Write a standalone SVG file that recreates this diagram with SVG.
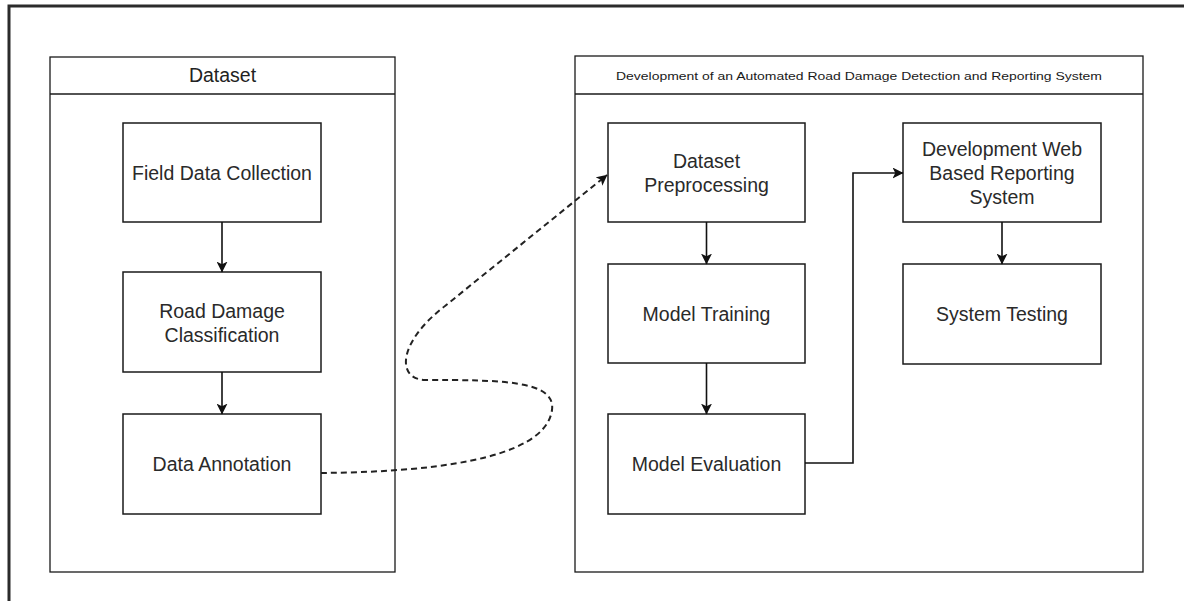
<svg xmlns="http://www.w3.org/2000/svg" width="1184" height="601" viewBox="0 0 1184 601">
  <style>
    .frame { fill: none; stroke: #2b2b2b; stroke-width: 3; }
    .pool { fill: #ffffff; stroke: #1a1a1a; stroke-width: 1.3; }
    .box { fill: #ffffff; stroke: #1a1a1a; stroke-width: 1.5; }
    .lbl { font-family: "Liberation Sans", Arial, sans-serif; font-size: 19.5px; fill: #2a2a2a; text-anchor: middle; }
    .title { font-family: "Liberation Sans", Arial, sans-serif; font-size: 19.5px; fill: #222222; text-anchor: middle; }
    .small { font-family: "Liberation Sans", Arial, sans-serif; font-size: 11.5px; fill: #1a1a1a; text-anchor: middle; }
    .edge { fill: none; stroke: #111111; stroke-width: 1.6; }
    .dash { fill: none; stroke: #222222; stroke-width: 2; stroke-dasharray: 6 4; }
  </style>
  <defs>
    <marker id="arrow" viewBox="0 0 10 10" refX="9.5" refY="5" markerWidth="11" markerHeight="11" markerUnits="userSpaceOnUse" orient="auto">
      <path d="M0,0 L10,5 L0,10 L2.5,5 Z" fill="#111111"/>
    </marker>
  </defs>

  <rect width="1184" height="601" fill="#ffffff"/>
  <!-- outer page border, running off the right and bottom edges -->
  <rect class="frame" x="9" y="6" width="1200" height="620"/>

  <!-- Dataset container -->
  <g id="pool-dataset">
    <rect class="pool" x="50" y="57" width="345" height="515"/>
    <line class="pool" x1="50" y1="94" x2="395" y2="94"/>
    <text class="title" x="222.5" y="82">Dataset</text>
  </g>

  <!-- System development container -->
  <g id="pool-system">
    <rect class="pool" x="575" y="56" width="568" height="516"/>
    <line class="pool" x1="575" y1="94" x2="1143" y2="94"/>
    <text class="small" x="859" y="80" textLength="486" lengthAdjust="spacingAndGlyphs">Development of an Automated Road Damage Detection and Reporting System</text>
  </g>

  <g id="field-data-collection">
    <rect class="box" x="123" y="123" width="198" height="99"/>
    <text class="lbl" x="222" y="179.5">Field Data Collection</text>
  </g>

  <g id="road-damage-classification">
    <rect class="box" x="123" y="272" width="198" height="100"/>
    <text class="lbl" x="222" y="317.5">Road Damage</text>
    <text class="lbl" x="222" y="341.5">Classification</text>
  </g>

  <g id="data-annotation">
    <rect class="box" x="123" y="414" width="198" height="100"/>
    <text class="lbl" x="222" y="471">Data Annotation</text>
  </g>

  <g id="dataset-preprocessing">
    <rect class="box" x="608" y="123" width="197" height="99"/>
    <text class="lbl" x="706.5" y="167.5">Dataset</text>
    <text class="lbl" x="706.5" y="191.5">Preprocessing</text>
  </g>

  <g id="model-training">
    <rect class="box" x="608" y="264" width="197" height="99"/>
    <text class="lbl" x="706.5" y="320.5">Model Training</text>
  </g>

  <g id="model-evaluation">
    <rect class="box" x="608" y="414" width="197" height="100"/>
    <text class="lbl" x="706.5" y="471">Model Evaluation</text>
  </g>

  <g id="web-reporting-system">
    <rect class="box" x="903" y="123" width="198" height="99"/>
    <text class="lbl" x="1002" y="155.5">Development Web</text>
    <text class="lbl" x="1002" y="179.5">Based Reporting</text>
    <text class="lbl" x="1002" y="203.5">System</text>
  </g>

  <g id="system-testing">
    <rect class="box" x="903" y="264" width="198" height="100"/>
    <text class="lbl" x="1002" y="321">System Testing</text>
  </g>

  <!-- connectors -->
  <g id="connectors">
    <line class="edge" x1="222" y1="222" x2="222" y2="272" marker-end="url(#arrow)"/>
    <line class="edge" x1="222" y1="372" x2="222" y2="414" marker-end="url(#arrow)"/>
    <line class="edge" x1="706.5" y1="222" x2="706.5" y2="264" marker-end="url(#arrow)"/>
    <line class="edge" x1="706.5" y1="363" x2="706.5" y2="414" marker-end="url(#arrow)"/>
    <line class="edge" x1="1002" y1="222" x2="1002" y2="264" marker-end="url(#arrow)"/>
    <polyline class="edge" points="805,463 853,463 853,173 903,173" marker-end="url(#arrow)"/>
    <path class="dash" d="M321,473 C 420,472 545,462 552,410 C 556,380 500,380 425,380 C 396,379 398,342 445,306 L 607,175" marker-end="url(#arrow)"/>
  </g>
</svg>
